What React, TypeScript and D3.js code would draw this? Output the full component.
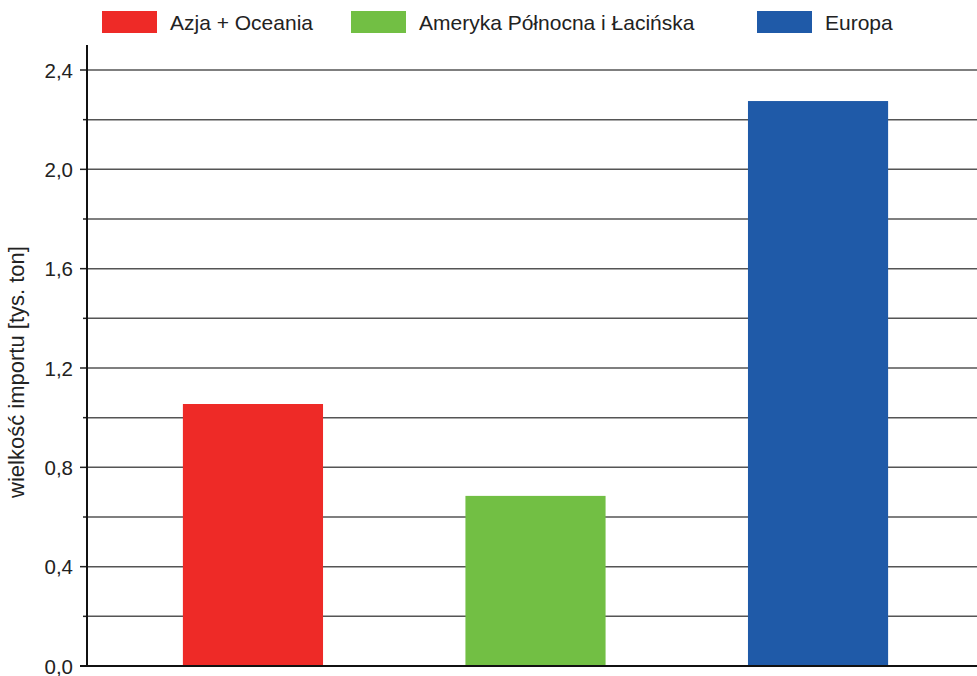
import React from "react";
import * as d3 from "d3";

const categories = ["Azja + Oceania", "Ameryka Północna i Łacińska", "Europa"];
const values = [1.055, 0.685, 2.275];
const colors = ["#ee2a27", "#72bf44", "#1f5aa8"];
const majorTicks = [0, 0.4, 0.8, 1.2, 1.6, 2.0, 2.4];
const minorTicks = [0.2, 0.6, 1.0, 1.4, 1.8, 2.2];
const yLabel = "wielkość importu [tys. ton]";

export default function App() {
  const W = 977, H = 676;
  const left = 87, right = 977, bottom = 666;
  const y = d3.scaleLinear().domain([0, 2.4]).range([bottom, 70]);
  const x = d3.scaleBand().domain(categories).range([90.5, 980.5]).paddingInner(0.504).paddingOuter(0.327);
  const fmt = (v: number) => v.toFixed(1).replace(".", ",");
  const legendX = [102, 351, 757];
  return (
    <svg width={W} height={H} style={{ position: "absolute", left: 0, top: 0, fontFamily: "Liberation Sans, Arial, sans-serif" }}>
      <rect width={W} height={H} fill="#fff" />
      {[...majorTicks.slice(1), ...minorTicks].map((t) => (
        <line key={"g" + t} x1={left} x2={right} y1={y(t)} y2={y(t)} stroke="#555" strokeWidth={1.5} />
      ))}
      {majorTicks.map((t) => (
        <g key={"m" + t}>
          <line x1={left - 7} x2={left} y1={y(t)} y2={y(t)} stroke="#222" strokeWidth={1.5} />
          <text x={73} y={y(t) + 7.5} textAnchor="end" fontSize={20.5} fill="#222">{fmt(t)}</text>
        </g>
      ))}
      {minorTicks.map((t) => (
        <line key={"n" + t} x1={left - 4} x2={left} y1={y(t)} y2={y(t)} stroke="#222" strokeWidth={1.5} />
      ))}
      {categories.map((c, i) => (
        <rect key={c} x={x(c)} y={y(values[i])} width={x.bandwidth()} height={bottom - y(values[i])} fill={colors[i]} />
      ))}
      <line x1={left} x2={left} y1={45} y2={bottom + 1} stroke="#111" strokeWidth={2} />
      <line x1={left - 7} x2={right} y1={bottom} y2={bottom} stroke="#111" strokeWidth={2} />
      <text transform={`translate(24,${372}) rotate(-90)`} textAnchor="middle" fontSize={22} fill="#222">{yLabel}</text>
      {categories.map((c, i) => (
        <g key={"l" + c}>
          <rect x={legendX[i]} y={11} width={55} height={22} fill={colors[i]} />
          <text x={legendX[i] + 68} y={30} fontSize={21} fill="#222">{c}</text>
        </g>
      ))}
    </svg>
  );
}
